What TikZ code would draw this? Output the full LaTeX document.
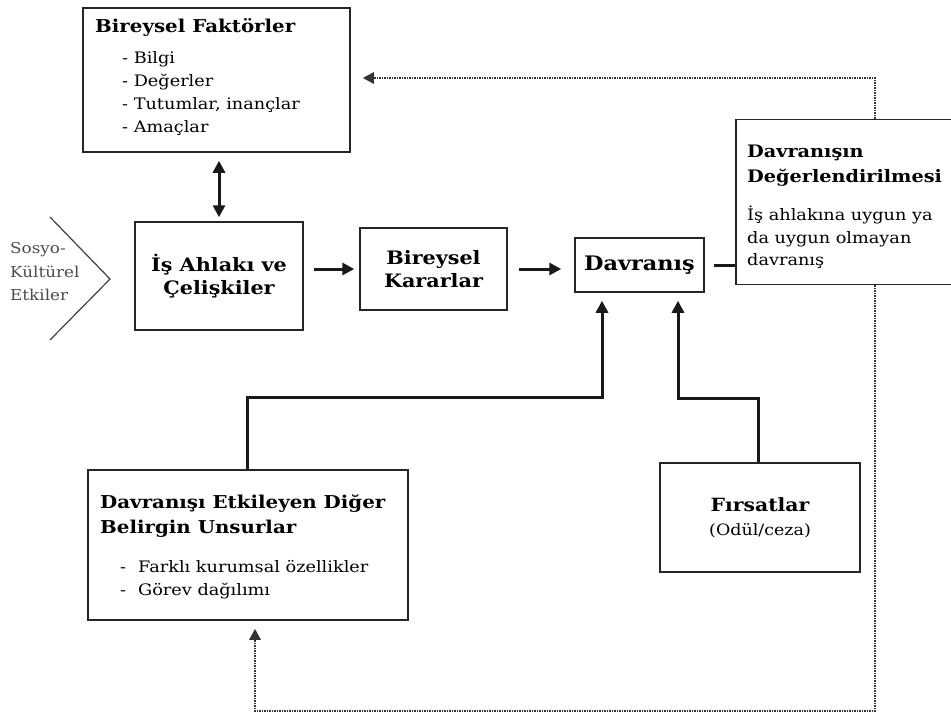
\documentclass[tikz,border=0pt]{standalone}
\usepackage{fontspec}
\setmainfont{DejaVu Serif}[FakeStretch=1.12]
\usetikzlibrary{positioning, arrows.meta}

\begin{document}
\begin{tikzpicture}[x=1pt, y=-1pt,
    box/.style={rectangle, draw=black!85, line width=1.5pt, inner sep=0pt},
    ttl/.style={font=\fontsize{17.7}{24}\selectfont\bfseries, inner sep=0pt},
    big/.style={font=\fontsize{18.5}{23}\selectfont\bfseries, align=center},
    txt/.style={font=\fontsize{15.8}{22}\selectfont, inner sep=0pt},
    flow/.style={-{Triangle[length=12pt, width=12pt]}, line width=3pt, black!90},
    feedback/.style={-{Triangle[length=11pt, width=11pt]}, line width=2.6pt, dash pattern=on 1.6pt off 0.9pt, black!80}]

    \useasboundingbox (0,0) rectangle (951,716);

    % boxes
    \node[box, minimum width=267pt, minimum height=144pt] (bf) at (216.5, 80) {};
    \node[box, big, minimum width=168pt, minimum height=108pt] (ias) at (219, 276) {İş Ahlakı ve\\Çelişkiler};
    \node[box, big, minimum width=147pt, minimum height=82pt] (kar) at (433.5, 269) {Bireysel\\Kararlar};
    \node[box, big, font=\fontsize{20}{24}\selectfont\bfseries, minimum width=129pt, minimum height=54pt] (dav) at (639.5, 265) {Davranış};
    \node[box, minimum width=222pt, minimum height=165pt] (eval) at (847, 202) {};
    \node[box, minimum width=320pt, minimum height=150pt] (etk) at (248, 545) {};
    \node[box, align=center, font=\fontsize{15.6}{24}\selectfont, minimum width=200pt, minimum height=109pt] (fir) at (760, 517.5)
        {{\fontsize{18.2}{24}\selectfont\bfseries Fırsatlar}\\(Odül/ceza)};

    % Bireysel Faktörler
    \node[ttl, anchor=base west] (bft) at (95, 32) {Bireysel Faktörler};
    \foreach \t [count=\i] in {- Bilgi, - Değerler, {- Tutumlar, inançlar}, - Amaçlar} {
        \node[txt, anchor=base west] (bfi\i) at (122, 40 + \i*23.2) {\t};
    }

    % Davranışın Değerlendirilmesi
    \node[ttl, font=\fontsize{17.2}{24}\selectfont\bfseries, anchor=base west] (evt1) at (747, 157) {Davranışın};
    \node[ttl, font=\fontsize{17.2}{24}\selectfont\bfseries, anchor=base west] (evt2) at (747, 182) {Değerlendirilmesi};
    \foreach \t [count=\i] in {İş ahlakına uygun ya, da uygun olmayan, davranış} {
        \node[txt, anchor=base west] (evi\i) at (747, 198 + \i*22.5) {\t};
    }

    % Davranışı Etkileyen Diğer Belirgin Unsurlar
    \node[ttl, anchor=base west] (etkt1) at (100, 508) {Davranışı Etkileyen Diğer};
    \node[ttl, anchor=base west] (etkt2) at (100, 533) {Belirgin Unsurlar};
    \foreach \t [count=\i] in {Farklı kurumsal özellikler, Görev dağılımı} {
        \node[txt, anchor=base west] (etki\i) at (120, 549 + \i*23) {-\hspace{12pt}\t};
    }

    % Sosyo-Kültürel Etkiler
    \draw[line width=1.2pt, black!75] (50, 217) -- (110, 279) -- (50, 340);
    \foreach \t [count=\i] in {Sosyo-, Kültürel, Etkiler} {
        \node[txt, font=\fontsize{15}{20}\selectfont, text=black!70, anchor=base west] (sos\i) at (10, 230 + \i*23.5) {\t};
    }

    % connectors
    \draw[flow, {Triangle[length=12pt, width=12pt]}-{Triangle[length=12pt, width=12pt]}, shorten <=8pt, shorten >=4pt]
        (bf.south -| ias.north) -- (ias.north);
    \draw[flow, shorten <=10pt, shorten >=5pt] (ias.east |- kar.west) -- (kar.west);
    \draw[flow, shorten <=11pt, shorten >=13pt] (kar.east) -- (kar.east -| dav.west);
    \draw[line width=3pt, black!90, shorten <=9pt] (dav.east) -- (dav.east -| eval.west);
    \draw[flow, shorten >=8pt] ([xshift=-1pt]etk.north) -- ++(0,-72) -| ([xshift=-37.5pt]dav.south);
    \draw[flow, shorten >=8pt] ([xshift=-2pt]fir.north) -- ++(0,-64) -| ([xshift=38.5pt]dav.south);

    % feedback
    \coordinate (fbtop) at (875, 78);
    \coordinate (fbbot) at (875, 711);
    \draw[feedback, shorten >=12pt] (eval.north -| fbtop) -- (fbtop) -- (fbtop -| bf.east);
    \draw[feedback, shorten >=8pt] (eval.south -| fbbot) -- (fbbot) -- (fbbot -| 255,0) -- (etk.south -| 255,0);
\end{tikzpicture}
\end{document}
